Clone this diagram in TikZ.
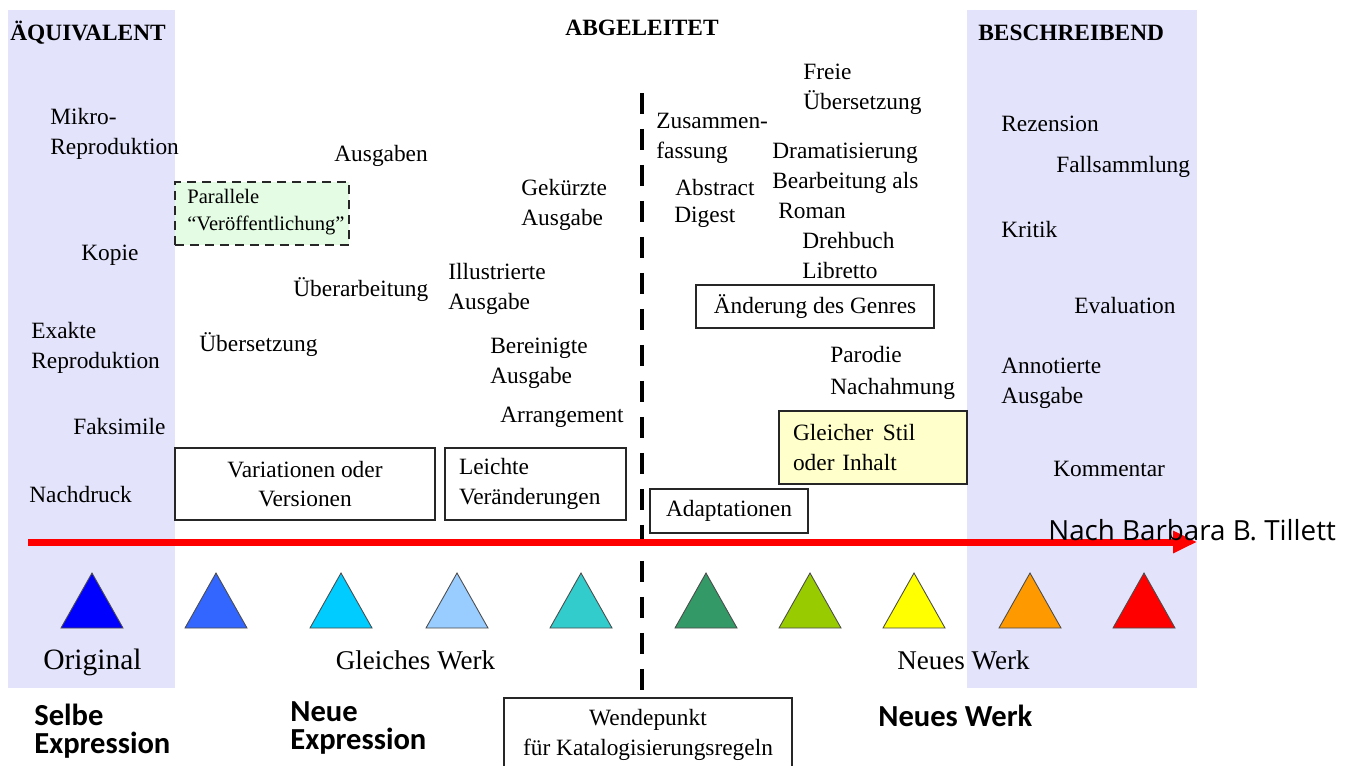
\documentclass[tikz,border=0pt]{standalone}
\usepackage{fontspec}
\setmainfont{Liberation Serif}
\newfontfamily\calfont{Carlito}
\newfontfamily\osfont{Open Sans}
\usetikzlibrary{arrows.meta}
\definecolor{lav}{RGB}{227,227,252}
\definecolor{lgreen}{RGB}{227,252,227}
\definecolor{lyellow}{HTML}{FFFFCC}
\definecolor{tA}{HTML}{0000FF}
\definecolor{tB}{HTML}{3366FF}
\definecolor{tC}{HTML}{00CCFF}
\definecolor{tD}{HTML}{99CCFF}
\definecolor{tE}{HTML}{33CCCC}
\definecolor{tF}{HTML}{339966}
\definecolor{tG}{HTML}{99CC00}
\definecolor{tH}{HTML}{FFFF00}
\definecolor{tI}{HTML}{FF9900}
\definecolor{tJ}{HTML}{FF0000}
\begin{document}
\begin{tikzpicture}[x=0.02cm,y=-0.02cm,
  txt/.style={inner sep=0pt, anchor=west, align=left, yshift=-0.045cm, font=\fontsize{13.3}{17}\selectfont},
  box/.style={draw=black!85, line width=0.8pt, fill=white, inner sep=0pt, font=\fontsize{13.3}{17}\selectfont},
  head/.style={inner sep=0pt, font=\fontsize{13.3}{16}\selectfont\bfseries},
  big/.style={inner sep=0pt, font=\fontsize{16.8}{20}\selectfont},
  mid/.style={inner sep=0pt, font=\fontsize{15.4}{20}\selectfont},
  foot/.style={inner sep=0pt, anchor=west, align=left, font=\fontsize{17.4}{15.9}\calfont\bfseries},
  tri/.style={draw=black!70, line width=0.5pt},
  panel/.style={fill=lav, draw=none},
]
\useasboundingbox (0,0) rectangle (1352,765);
\clip (0,0) rectangle (1352,765);

% panels
\fill[panel] (8,10) rectangle (175,688);
\fill[panel] (967,10) rectangle (1197,688);

% headings
\node[head, anchor=west] (aequi) at (10,32.5) {ÄQUIVALENT};
\node[head] (abgel) at (642,27.5) {ABGELEITET};
\node[head, anchor=west] (beschr) at (978,32.5) {BESCHREIBEND};

% left column
\node[txt] (mikro) at (50,132) {Mikro-\\Reproduktion};
\node[txt] (kopie) at (81,253) {Kopie};
\node[txt] (exakte) at (31,346) {Exakte\\Reproduktion};
\node[txt] (faks) at (73,424) {Faksimile};
\node[txt] (nachdruck) at (29,492) {Nachdruck};

% middle (same work)
\node[txt] (ausgaben) at (334,154) {Ausgaben};
\node[draw=black!85, line width=1.4pt, dash pattern=on 0.18cm off 0.12cm, fill=lgreen,
      minimum width=3.48cm, minimum height=1.26cm, inner sep=0pt] (parallel) at (262,213.5) {};
\node[inner sep=0pt, anchor=west, align=left, yshift=-0.04cm, font=\fontsize{11.7}{15.3}\selectfont]
      (partxt) at (187,210.5) {Parallele\\“Veröffentlichung”};
\node[txt] (ueberarb) at (293,287) {Überarbeitung};
\node[txt] (uebers) at (199,342) {Übersetzung};
\node[txt] (gekuerzt) at (521,203) {Gekürzte\\Ausgabe};
\node[txt] (illustr) at (448,287) {Illustrierte\\Ausgabe};
\node[txt] (bereinigt) at (490,361) {Bereinigte\\Ausgabe};
\node[txt] (arrang) at (500,415) {Arrangement};
\node[box, align=center, minimum width=5.2cm, minimum height=1.44cm] (variationen) at (305,484)
      {Variationen oder\\Versionen};
\node[box, align=left, text width=3.06cm, inner xsep=0.28cm, minimum height=1.44cm] (leichte) at (535.5,484)
      {Leichte\\Veränderungen};

% right of turning point
\node[txt] (zusammen) at (656,136) {Zusammen-\\fassung};
\node[txt] (abstract) at (675,185) {Abstract};
\node[txt] (digest) at (674,215) {Digest};
\node[txt] (freie) at (803,87) {Freie\\Übersetzung};
\node[txt] (dramat) at (772,151) {Dramatisierung};
\node[txt] (bearb) at (772,181) {Bearbeitung als};
\node[txt] (roman) at (778,209) {Roman};
\node[txt] (drehbuch) at (802,253) {Drehbuch\\Libretto};
\node[box, minimum width=4.76cm, minimum height=0.86cm] (genre) at (815,306.5) {Änderung des Genres};
\node[txt] (parodie) at (830,352) {Parodie};
\node[txt] (nachahm) at (830,387) {Nachahmung};
\node[box, fill=lyellow, align=left, text width=3.2cm, inner xsep=0.28cm, minimum height=1.46cm] (stil) at (873,447.5)
      {Gleicher\hspace{0.4em}Stil\\oder Inhalt};
\node[box, minimum width=3.16cm, minimum height=0.88cm] (adapt) at (729,511) {Adaptationen};

% descriptive column
\node[txt] (rezension) at (1001,122) {Rezension};
\node[txt] (fallsamml) at (1056,165) {Fallsammlung};
\node[txt] (kritik) at (1001,227) {Kritik};
\node[txt] (evaluation) at (1074,303) {Evaluation};
\node[txt] (annotiert) at (1001,381) {Annotierte\\Ausgabe};
\node[txt] (kommentar) at (1053,467) {Kommentar};

% turning point box and dashed line
\node[box, align=center, minimum width=5.76cm, minimum height=1.48cm] (wende) at (648,735)
      {Wendepunkt\\für Katalogisierungsregeln};
\coordinate (dtop) at (642,93);
\draw[line width=2.83pt, dash pattern=on 0.42cm off 0.3cm] (dtop) -- (dtop |- wende.north);

% red arrow
\coordinate (astart) at (28,542);
\coordinate (aend) at (1197,542);
\draw[red, line width=3.97pt, -{Triangle[length=0.48cm,width=0.42cm]}] (astart) -- (aend);
\node[inner sep=0pt, anchor=west, font=\fontsize{15.8}{18}\osfont] (tillett) at (1048,530) {Nach Barbara B. Tillett};

% triangles
\foreach \cx/\col in {92/tA,216/tB,341/tC,457/tD,581/tE,706/tF,810/tG,914/tH,1030/tI,1144/tJ}
  \draw[tri, fill=\col] ({\cx-31},628) -- (\cx,573) -- ({\cx+31},628) -- cycle;

% labels under triangles
\node[big] (original) at (92.5,662) {Original};
\node[mid] (gleiches) at (415.5,660) {Gleiches Werk};
\node[mid] (neueswerk) at (963.5,660) {Neues Werk};

% footer
\node[foot] (selbe) at (34,731) {Selbe\\Expression};
\node[foot] (neueexp) at (290,728) {Neue\\Expression};
\node[foot] (neuwerk) at (878,716) {Neues Werk};
\end{tikzpicture}
\end{document}
